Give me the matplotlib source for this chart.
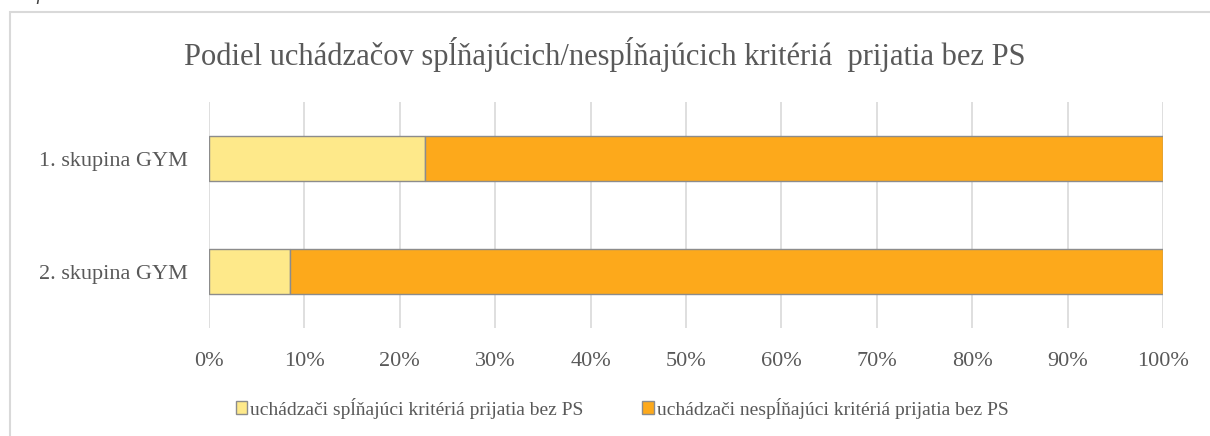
import matplotlib.pyplot as plt
from matplotlib.patches import Rectangle
from matplotlib.ticker import MultipleLocator, PercentFormatter

plt.rcParams['font.family'] = ['Liberation Serif', 'DejaVu Serif']

skupiny = ['1. skupina GYM', '2. skupina GYM']
splnajuci = [22.6, 8.5]
nesplnajuci = [77.4, 91.5]
nazvy = ['uchádzači spĺňajúci kritériá prijatia bez PS',
         'uchádzači nespĺňajúci kritériá prijatia bez PS']
titulok = 'Podiel uchádzačov spĺňajúcich/nespĺňajúcich kritériá  prijatia bez PS'

sedy = '#595959'
fig = plt.figure(figsize=(12.1, 4.36), dpi=100)
ax = fig.add_axes([0.1727, 0.2477, 0.7884, 0.5183])

# ramik grafu
fig.patches.append(Rectangle((10 / 1210, -0.1), 1.2, 1 - 12 / 436 + 0.1,
                             transform=fig.transFigure, fill=False,
                             edgecolor='#d9d9d9', linewidth=1.5))
fig.text(0.004, 1.012, 'Graf 1', style='italic', fontsize=14, color='#404040',
         va='center')

y = range(len(skupiny))
ax.barh(y, splnajuci, height=0.4, color='#FEE98A', edgecolor='#8c8c8c',
        linewidth=1, label=nazvy[0], zorder=3)
ax.barh(y, nesplnajuci, left=splnajuci, height=0.4, color='#FDA91B',
        edgecolor='#8c8c8c', linewidth=1, label=nazvy[1], zorder=3)

ax.set_xlim(0, 100)
ax.set_ylim(1.5, -0.5)
ax.set_yticks(list(y))
ax.set_yticklabels(skupiny)
ax.xaxis.set_major_locator(MultipleLocator(10))
ax.xaxis.set_major_formatter(PercentFormatter(decimals=0))
ax.grid(axis='x', color='#d9d9d9', linewidth=1.2, zorder=0)
for s in ax.spines.values():
    s.set_visible(False)
ax.tick_params(axis='both', length=0, labelsize=16, colors=sedy)
ax.tick_params(axis='x', pad=17)
ax.tick_params(axis='y', pad=15)

fig.text(0.5, 0.874, titulok, ha='center', va='center', fontsize=22, color=sedy)

fig.legend(loc='center', bbox_to_anchor=(0.514, 0.064), ncol=2, frameon=False,
           fontsize=14, labelcolor=sedy, handlelength=0.6, handleheight=0.65,
           handletextpad=0.15, columnspacing=3.0)

fig.savefig('out.png', dpi=100)
